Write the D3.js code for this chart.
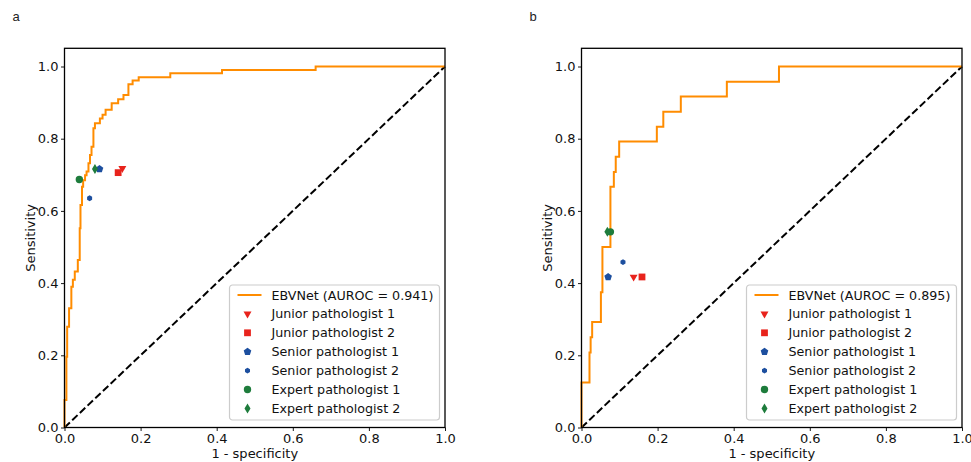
<!DOCTYPE html>
<meta charset="utf-8">
<script src="https://d3js.org/d3.v7.min.js"></script>
<style>
    body { margin: 0; background: white; }
    text { font-family: "DejaVu Sans", sans-serif; }
</style>
<div id="chart"></div>
<script>
    // ROC curve of panel a (corner points)
    var rocA_fpr = [0, 0, 0.005, 0.005, 0.007, 0.007, 0.012, 0.012, 0.018, 0.018, 0.022, 0.022, 0.027, 0.027,
        0.035, 0.035, 0.040, 0.040, 0.042, 0.042, 0.046, 0.046, 0.049, 0.049, 0.054, 0.054, 0.058, 0.058,
        0.063, 0.063, 0.067, 0.067, 0.071, 0.071, 0.076, 0.076, 0.080, 0.080, 0.093, 0.093, 0.100, 0.100,
        0.108, 0.108, 0.124, 0.124, 0.141, 0.141, 0.155, 0.155, 0.168, 0.168, 0.179, 0.179, 0.195, 0.195,
        0.278, 0.278, 0.414, 0.414, 0.660, 0.660, 1.0];
    var rocA_tpr = [0, 0.076, 0.076, 0.196, 0.196, 0.279, 0.279, 0.330, 0.330, 0.390, 0.390, 0.409, 0.409, 0.432,
        0.432, 0.464, 0.464, 0.552, 0.552, 0.616, 0.616, 0.667, 0.667, 0.685, 0.685, 0.699, 0.699, 0.709,
        0.709, 0.732, 0.732, 0.755, 0.755, 0.778, 0.778, 0.829, 0.829, 0.843, 0.843, 0.856, 0.856, 0.866,
        0.866, 0.880, 0.880, 0.898, 0.898, 0.909, 0.909, 0.921, 0.921, 0.951, 0.951, 0.961, 0.961, 0.970,
        0.970, 0.981, 0.981, 0.990, 0.990, 1.0, 1.0];

    // ROC curve of panel b
    var rocB_fpr = [0, 0, 0.021, 0.021, 0.024, 0.024, 0.028, 0.028, 0.051, 0.051, 0.055, 0.055, 0.076, 0.076,
        0.085, 0.085, 0.090, 0.090, 0.099, 0.099, 0.198, 0.198, 0.215, 0.215, 0.261, 0.261, 0.382, 0.382,
        0.519, 0.519, 1.0];
    var rocB_tpr = [0, 0.125, 0.125, 0.208, 0.208, 0.250, 0.250, 0.292, 0.292, 0.375, 0.375, 0.500, 0.500, 0.667,
        0.667, 0.708, 0.708, 0.750, 0.750, 0.792, 0.792, 0.833, 0.833, 0.875, 0.875, 0.917, 0.917, 0.958,
        0.958, 1.0, 1.0];

    var readers = ["Junior pathologist 1", "Junior pathologist 2", "Senior pathologist 1",
        "Senior pathologist 2", "Expert pathologist 1", "Expert pathologist 2"];
    var readerA_fpr = [0.152, 0.141, 0.092, 0.066, 0.039, 0.080];
    var readerA_tpr = [0.718, 0.706, 0.716, 0.635, 0.687, 0.716];
    var readerB_fpr = [0.137, 0.159, 0.070, 0.109, 0.076, 0.068];
    var readerB_tpr = [0.417, 0.417, 0.417, 0.458, 0.542, 0.542];

    var aurocs = ["0.941", "0.895"];
    var ticks = [0, 0.2, 0.4, 0.6, 0.8, 1.0];

    var red = "#e8231c", blue = "#1d4f9f", green = "#1e7c3c";
    var markerStyle = [
        { color: red, shape: "tri" },
        { color: red, shape: "square" },
        { color: blue, shape: "pent" },
        { color: blue, shape: "hexsmall" },
        { color: green, shape: "circle" },
        { color: green, shape: "diamond" }
    ];

    var svg = d3.select("#chart")
        .append("svg")
        .attr("width", 971)
        .attr("height", 462);

    // polygon path helper
    function poly(n, r, rot) {
        var pts = [];
        for (var i = 0; i < n; i++) {
            var a = rot + i * 2 * Math.PI / n;
            pts.push([r * Math.cos(a), r * Math.sin(a)]);
        }
        return "M" + pts.map(function(p) { return p[0].toFixed(2) + "," + p[1].toFixed(2); }).join("L") + "Z";
    }

    function markerPath(shape) {
        if (shape == "tri") return poly(3, 4.6, Math.PI / 2);
        if (shape == "square") return "M-3.4,-3.4L3.4,-3.4L3.4,3.4L-3.4,3.4Z";
        if (shape == "pent") return poly(5, 4.0, -Math.PI / 2);
        if (shape == "hexsmall") return poly(6, 2.9, -Math.PI / 2);
        if (shape == "circle") return d3.symbol().type(d3.symbolCircle).size(Math.PI * 3.7 * 3.7)();
        if (shape == "diamond") return "M0,-5L3,0L0,5L-3,0Z";
    }

    function drawPanel(left, fpr, tpr, rfpr, rtpr, auroc, letter) {
        var top = 48.3, bottom = 427.5, width = 380.5;
        var x = d3.scaleLinear().domain([0, 1]).range([left, left + width]);
        var y = d3.scaleLinear().domain([0, 1]).range([bottom, 66.5]);
        var g = svg.append("g");

        // panel letter
        g.append("text")
            .attr("x", left - 52)
            .attr("y", 20.5)
            .style("font-family", "'Liberation Sans', Arial, sans-serif")
            .style("font-size", "13px")
            .style("fill", "#222")
            .text(letter);

        // diagonal
        g.append("line")
            .attr("x1", x(0)).attr("y1", y(0))
            .attr("x2", x(1)).attr("y2", y(1))
            .attr("stroke", "black")
            .attr("stroke-width", 2)
            .attr("stroke-dasharray", "7.4,3.2");

        // ROC curve
        var line = d3.line()
            .x(function(d) { return x(d[0]); })
            .y(function(d) { return y(d[1]); });
        g.append("path")
            .datum(d3.zip(fpr, tpr))
            .attr("d", line)
            .attr("fill", "none")
            .attr("stroke", "#ff8c00")
            .attr("stroke-width", 2);

        // reader points
        g.append("g")
            .selectAll("path")
            .data(readers)
            .enter()
            .append("path")
            .attr("d", function(d, i) { return markerPath(markerStyle[i].shape); })
            .attr("transform", function(d, i) {
                return "translate(" + x(rfpr[i]) + "," + y(rtpr[i]) + ")";
            })
            .attr("fill", function(d, i) { return markerStyle[i].color; });

        // axes
        var xAxis = g.append("g")
            .attr("transform", "translate(0," + bottom + ")")
            .call(d3.axisBottom(x).tickValues(ticks).tickFormat(d3.format(".1f")).tickSize(3.5).tickSizeOuter(0).tickPadding(2.5));
        var yAxis = g.append("g")
            .attr("transform", "translate(" + left + ",0)")
            .call(d3.axisLeft(y).tickValues(ticks).tickFormat(d3.format(".1f")).tickSize(3.5).tickSizeOuter(0).tickPadding(2.5));
        [xAxis, yAxis].forEach(function(a) {
            a.select(".domain").remove();
            a.selectAll("line").attr("stroke", "black").attr("stroke-width", 0.9);
            a.selectAll("text")
                .style("font-family", "'DejaVu Sans', sans-serif")
                .style("font-size", "13px")
                .attr("fill", "#111");
        });

        // frame
        g.append("rect")
            .attr("x", left)
            .attr("y", top)
            .attr("width", width)
            .attr("height", bottom - top)
            .attr("fill", "none")
            .attr("stroke", "black")
            .attr("stroke-width", 1.3);

        // axis labels
        g.append("text")
            .attr("x", left + width / 2)
            .attr("y", 457.5)
            .attr("text-anchor", "middle")
            .style("font-size", "13px")
            .attr("fill", "#111")
            .text("1 - specificity");
        g.append("text")
            .attr("transform", "translate(" + (left - 30) + "," + ((top + bottom) / 2) + ") rotate(-90)")
            .attr("text-anchor", "middle")
            .style("font-size", "13px")
            .attr("fill", "#111")
            .text("Sensitivity");

        // legend
        var lw = 210, lh = 135;
        var lx = left + width - 5.5 - lw, ly = bottom - 7.5 - lh;
        var leg = g.append("g").attr("transform", "translate(" + lx + "," + ly + ")");
        leg.append("rect")
            .attr("width", lw)
            .attr("height", lh)
            .attr("rx", 3)
            .attr("fill", "white")
            .attr("fill-opacity", 0.8)
            .attr("stroke", "#cccccc")
            .attr("stroke-width", 1.2);
        var labels = ["EBVNet (AUROC = " + auroc + ")"].concat(readers);
        labels.forEach(function(lab, i) {
            var cy = 10 + i * 18.9;
            if (i == 0) {
                leg.append("line")
                    .attr("x1", 8).attr("x2", 32)
                    .attr("y1", cy).attr("y2", cy)
                    .attr("stroke", "#ff8c00")
                    .attr("stroke-width", 2);
            } else {
                leg.append("path")
                    .attr("d", markerPath(markerStyle[i - 1].shape))
                    .attr("transform", "translate(18," + cy + ")")
                    .attr("fill", markerStyle[i - 1].color);
            }
            leg.append("text")
                .attr("x", 42)
                .attr("y", cy)
                .attr("dy", "0.36em")
                .style("font-size", "12.7px")
                .attr("fill", "#111")
                .text(lab);
        });
    }

    drawPanel(64.5, rocA_fpr, rocA_tpr, readerA_fpr, readerA_tpr, aurocs[0], "a");
    drawPanel(581.5, rocB_fpr, rocB_tpr, readerB_fpr, readerB_tpr, aurocs[1], "b");
</script>
